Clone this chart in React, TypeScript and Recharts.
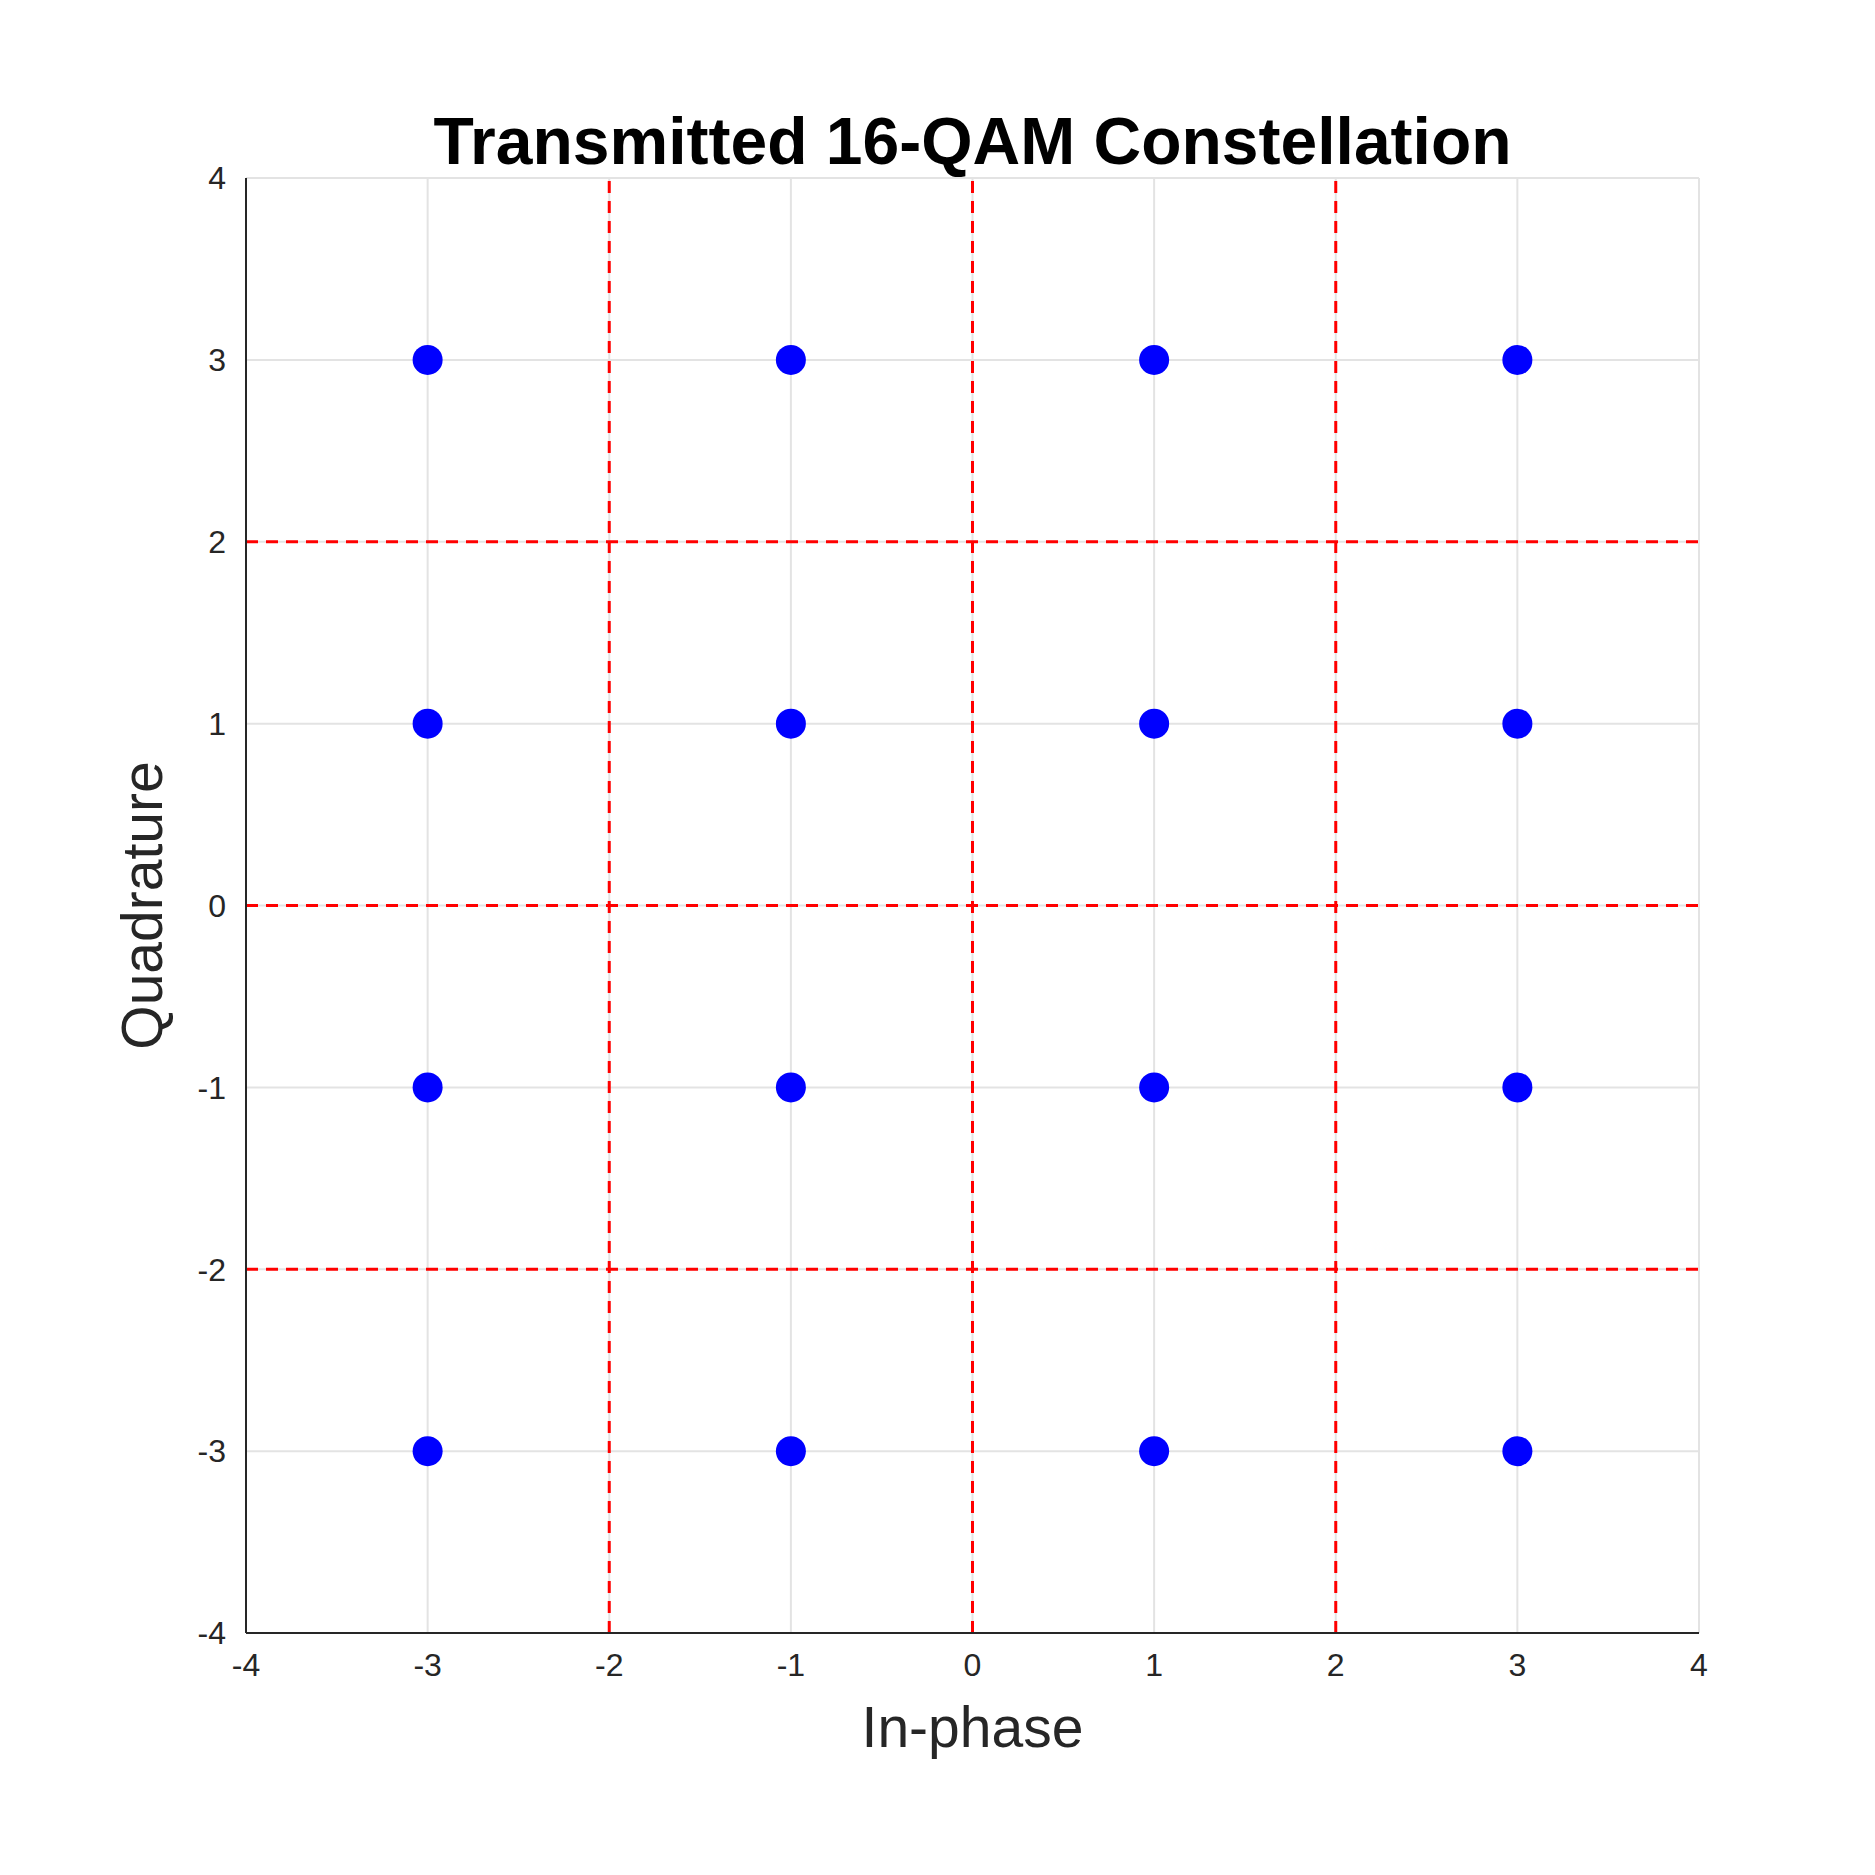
import { ScatterChart, Scatter, XAxis, YAxis, CartesianGrid, ReferenceLine } from 'recharts'

const LEVELS = [-3, -1, 1, 3]
const TICKS = [-4, -3, -2, -1, 0, 1, 2, 3, 4]
const BOUNDARIES = [-2, 0, 2]

const points = LEVELS.flatMap((i) => LEVELS.map((q) => ({ i, q })))

const font = '"Liberation Sans", Arial, sans-serif'
const tick = { fill: '#262626', fontSize: 32, fontFamily: font }

const Dot = (props: any) => <circle cx={props.cx} cy={props.cy} r={15} fill="#0000ff" />

export default function App() {
  return (
    <div style={{ position: 'absolute', left: 0, top: 0, width: 1875, height: 1875, background: '#fff' }}>
      <div
        style={{
          position: 'absolute',
          left: 246,
          width: 1453,
          top: 103,
          textAlign: 'center',
          fontFamily: font,
          fontWeight: 'bold',
          fontSize: 66,
          color: '#000',
        }}
      >
        Transmitted 16-QAM Constellation
      </div>
      <ScatterChart width={1875} height={1875} margin={{ top: 178, right: 176, bottom: 142, left: 146 }}>
        <CartesianGrid stroke="#e3e3e3" strokeWidth={2} horizontalValues={TICKS} verticalValues={TICKS} />
        <XAxis
          type="number"
          dataKey="i"
          domain={[-4, 4]}
          ticks={TICKS}
          tick={tick}
          tickLine={false}
          axisLine={{ stroke: '#262626', strokeWidth: 2 }}
          tickMargin={14}
          height={100}
          label={{ value: 'In-phase', position: 'insideBottom', offset: -14, fill: '#262626', fontSize: 57, fontFamily: font }}
        />
        <YAxis
          type="number"
          dataKey="q"
          domain={[-4, 4]}
          ticks={TICKS}
          tick={tick}
          tickLine={false}
          axisLine={{ stroke: '#262626', strokeWidth: 2 }}
          tickMargin={14}
          width={100}
          label={{ value: 'Quadrature', angle: -90, position: 'insideLeft', offset: -4, fill: '#262626', fontSize: 57, fontFamily: font, style: { textAnchor: 'middle' } }}
        />
        {BOUNDARIES.map((b) => (
          <ReferenceLine key={'x' + b} x={b} stroke="#ff0000" strokeWidth={3} strokeDasharray="12 8" />
        ))}
        {BOUNDARIES.map((b) => (
          <ReferenceLine key={'y' + b} y={b} stroke="#ff0000" strokeWidth={3} strokeDasharray="12 8" />
        ))}
        <Scatter data={points} shape={Dot} isAnimationActive={false} />
      </ScatterChart>
    </div>
  )
}
